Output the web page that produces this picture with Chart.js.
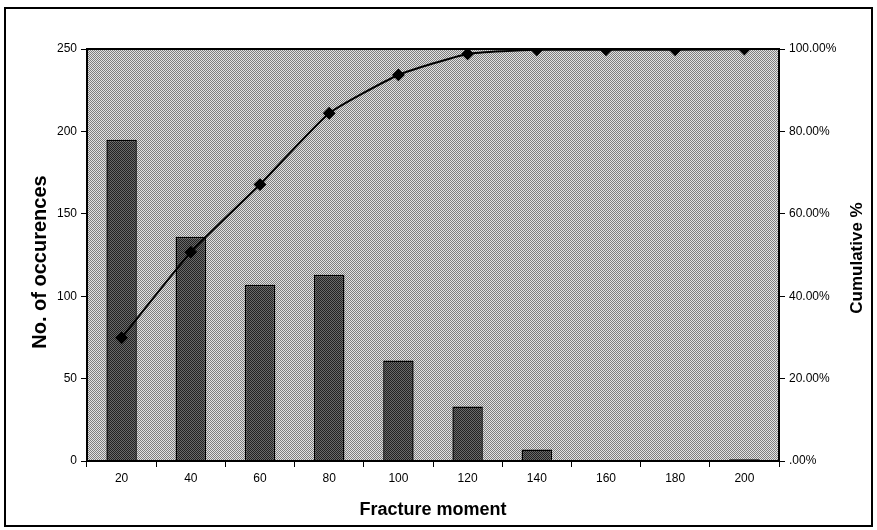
<!DOCTYPE html>
<html>
<head>
<meta charset="utf-8">
<script src="https://cdn.jsdelivr.net/npm/chart.js@4.4.0/dist/chart.umd.min.js"></script>
<style>
  html, body { margin: 0; padding: 0; background: #fff; }
  #wrap { width: 877px; height: 530px; }
</style>
</head>
<body>
<div id="wrap"><canvas id="chart"></canvas></div>
<script>
// data
const moments = ["20", "40", "60", "80", "100", "120", "140", "160", "180", "200"];
const occurences = [195, 136, 107, 113, 61, 33, 7, 0, 0, 1];
const cumulative = [29.9, 50.7, 67.1, 84.4, 93.7, 98.8, 99.8, 99.8, 99.8, 100];

// dithered fills, like the scanned print
function dither(a, b) {
  const c = document.createElement("canvas");
  c.width = 2; c.height = 2;
  const g = c.getContext("2d");
  g.fillStyle = a; g.fillRect(0, 0, 2, 2);
  g.fillStyle = b; g.fillRect(0, 0, 1, 1); g.fillRect(1, 1, 1, 1);
  return g.createPattern(c, "repeat");
}
const ctx = document.getElementById("chart").getContext("2d");
const plotFill = dither("#e2e2e2", "#7e7e7e");
const barFill = dither("#6a6a6a", "#222222");

function sideTitle(c, text, x, y, size) {
  c.save();
  c.fillStyle = "#000";
  c.font = "bold " + size + "px 'Liberation Sans'";
  c.textAlign = "center";
  c.textBaseline = "middle";
  c.translate(x, y);
  c.rotate(-Math.PI / 2);
  c.fillText(text, 0, 0);
  c.restore();
}

const frame = {
  id: "frame",
  beforeDraw(chart) {
    const c = chart.ctx, a = chart.chartArea;
    c.save();
    c.fillStyle = "#fff";
    c.fillRect(0, 0, chart.width, chart.height);
    c.strokeStyle = "#000";
    c.lineWidth = 2;
    c.strokeRect(5, 8, chart.width - 10, chart.height - 12);
    c.fillStyle = plotFill;
    c.fillRect(a.left, a.top, a.right - a.left, a.bottom - a.top);
    c.restore();
  },
  afterDatasetsDraw(chart) {
    const c = chart.ctx, a = chart.chartArea;
    c.save();
    c.strokeStyle = "#000";
    c.lineWidth = 2;
    c.strokeRect(a.left, a.top, a.right - a.left, a.bottom - a.top);
    c.restore();
    // both side titles read bottom to top
    sideTitle(c, "No. of occurences", 40, 262, 20);
    sideTitle(c, "Cumulative %", 857, 258, 17);
  }
};

new Chart(ctx, {
  type: "bar",
  data: {
    labels: moments,
    datasets: [{
      type: "line",
      label: "Cumulative %",
      data: cumulative,
      yAxisID: "y1",
      borderColor: "#000",
      borderWidth: 2,
      backgroundColor: "#000",
      pointStyle: "rectRot",
      pointRadius: 5,
      pointHoverRadius: 5,
      tension: 0.15,
      order: 0
    }, {
      label: "No. of occurences",
      data: occurences,
      yAxisID: "y",
      backgroundColor: barFill,
      borderColor: "#000",
      borderWidth: 1.5,
      barPercentage: 0.44,
      categoryPercentage: 1,
      order: 1
    }]
  },
  options: {
    responsive: true,
    maintainAspectRatio: false,
    animation: false,
    layout: { padding: { left: 5, right: 5, top: 49, bottom: 5 } },
    plugins: {
      legend: { display: false },
      tooltip: { enabled: false }
    },
    scales: {
      x: {
        offset: true,
        grid: { offset: true, drawOnChartArea: false, color: "#000", tickLength: 6 },
        border: { display: false },
        ticks: { color: "#000", font: { family: "Liberation Sans", size: 12 }, padding: 4 },
        title: {
          display: true, text: "Fracture moment", color: "#000",
          font: { family: "Liberation Sans", size: 18, weight: "bold" }, padding: { top: 8 }
        },
        afterFit(s) { s.height = 64; }
      },
      y: {
        position: "left",
        min: 0, max: 250,
        ticks: { stepSize: 50, color: "#000", font: { family: "Liberation Sans", size: 12 }, padding: 4 },
        grid: { drawOnChartArea: false, color: "#000", tickLength: 6 },
        border: { display: false },
        afterFit(s) { s.width = 82; }
      },
      y1: {
        position: "right",
        min: 0, max: 100,
        ticks: {
          stepSize: 20, color: "#000", font: { family: "Liberation Sans", size: 12 }, padding: 4,
          callback: v => v === 0 ? ".00%" : v.toFixed(2) + "%"
        },
        grid: { drawOnChartArea: false, color: "#000", tickLength: 6 },
        border: { display: false },
        afterFit(s) { s.width = 93; }
      }
    }
  },
  plugins: [frame]
});
</script>
</body>
</html>
